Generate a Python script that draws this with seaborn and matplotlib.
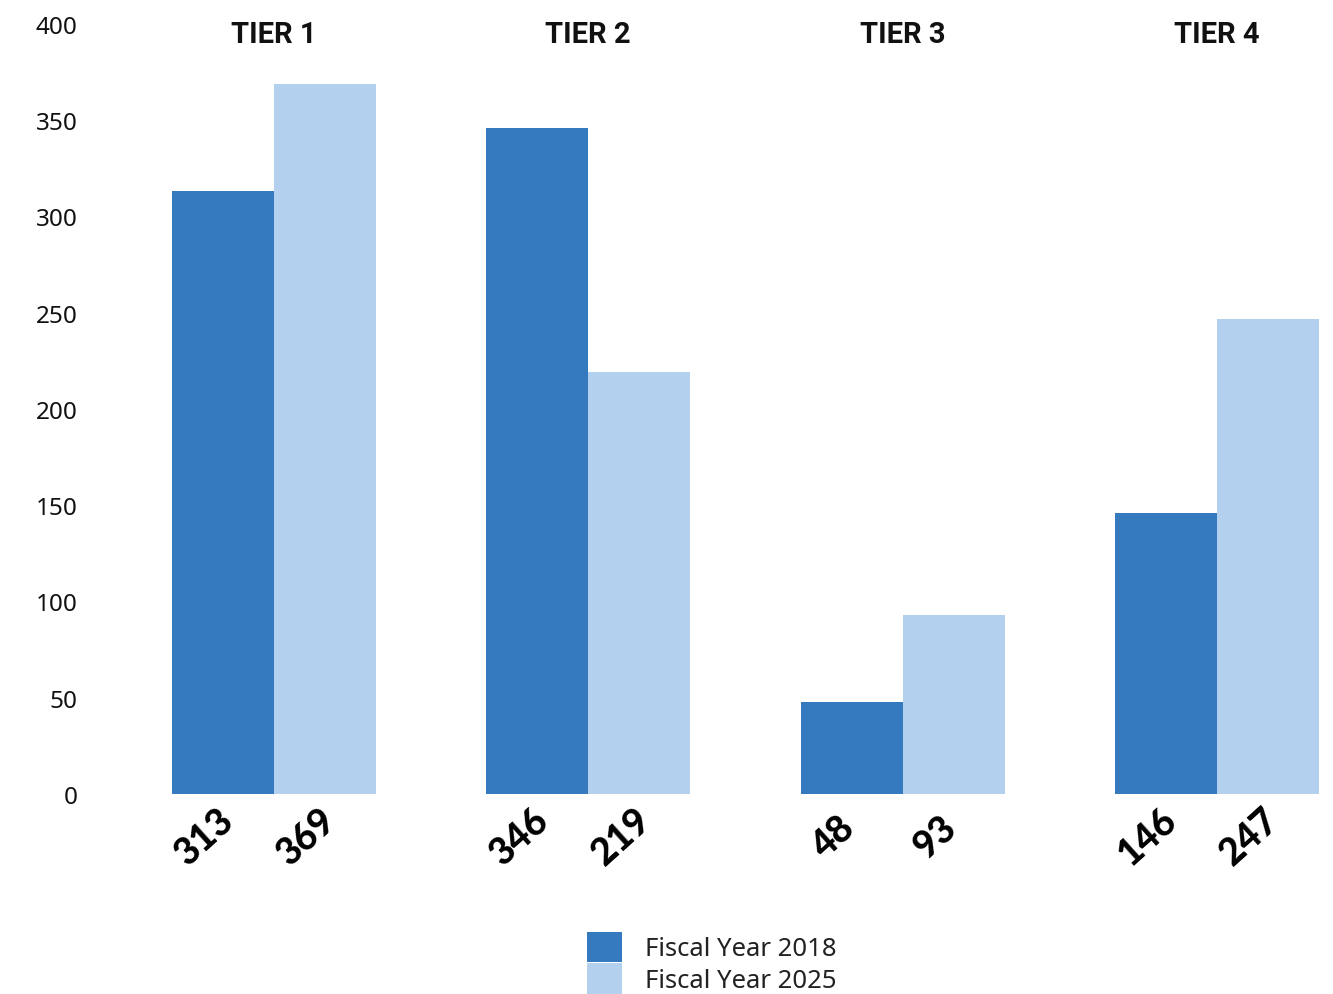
import matplotlib
matplotlib.use("Agg")
import matplotlib.pyplot as plt
import matplotlib.transforms as mtransforms
from matplotlib.patches import Patch
import seaborn as sns
import pandas as pd

# Data
tiers = ["TIER 1", "TIER 2", "TIER 3", "TIER 4"]
fy2018 = [313, 346, 48, 146]
fy2025 = [369, 219, 93, 247]
series_names = ["Fiscal Year 2018", "Fiscal Year 2025"]
yticks = [0, 50, 100, 150, 200, 250, 300, 350, 400]

colors = ["#357ABF", "#B3D1EE"]

df = pd.DataFrame({
    "tier": tiers * 2,
    "value": fy2018 + fy2025,
    "series": [series_names[0]] * len(tiers) + [series_names[1]] * len(tiers),
})

sns.set_theme(style="white")
plt.rcParams["font.family"] = ["Noto Sans", "DejaVu Sans"]

W, H = 1333, 995
fig = plt.figure(figsize=(W / 100, H / 100), dpi=100)
# axes spans from the first bar's left edge to the last bar's right edge
ax = fig.add_axes([172 / W, (H - 795) / H, (1319 - 172) / W, (795 - 25) / H])

sns.barplot(data=df, x="tier", y="value", hue="series", palette=colors,
            width=0.648, saturation=1, ax=ax, legend=False, errorbar=None,
            linewidth=0, edgecolor="none")

ax.set_xlim(-0.324, 3.324)
ax.set_ylim(0, 400)
ax.set_yticks(yticks)
ax.set_yticklabels([str(t) for t in yticks], fontsize=17.5, color="#111111")
ax.tick_params(axis="y", length=0, pad=68)
ax.set_xticks([])
ax.set_xlabel("")
ax.set_ylabel("")
for s in ax.spines.values():
    s.set_visible(False)

# tier headings above each group
for i, t in enumerate(tiers):
    ax.text(i, 395, t, ha="center", va="center", fontsize=21, fontweight="bold",
            family=["Roboto", "DejaVu Sans"], color="#111111")

# rotated value labels beneath each bar
off = mtransforms.ScaledTranslation(-18 / 100, 0, fig.dpi_scale_trans)
for i in range(len(tiers)):
    for j, vals in enumerate([fy2018, fy2025]):
        xc = i + (j - 0.5) * 0.324
        ax.text(xc, -22, str(vals[i]), ha="center", va="center", rotation=42,
                fontsize=27, fontweight="black", family=["Lato", "DejaVu Sans"],
                color="black", transform=ax.transData + off, clip_on=False)

handles = [Patch(facecolor=c, edgecolor="none") for c in colors]
fig.legend(handles, series_names, loc="lower center",
           bbox_to_anchor=(712 / W, 0.0), frameon=False, fontsize=18.5,
           labelcolor="#222222",
           handlelength=1.36, handleheight=1.45, labelspacing=0.05,
           handletextpad=0.9, borderpad=0.0, borderaxespad=0.0)

fig.savefig("out.png", dpi=100)
